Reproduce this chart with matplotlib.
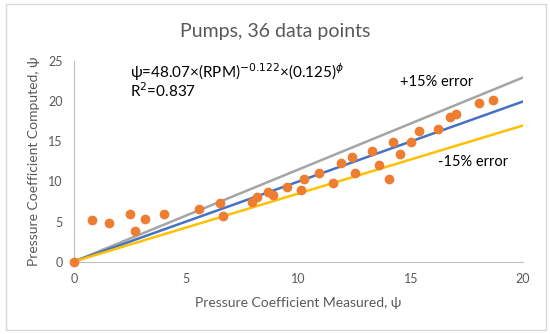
import matplotlib.pyplot as plt
from matplotlib.patches import Rectangle
import numpy as np

# measured vs computed pressure coefficient
measured = [0, 0.82, 1.54, 2.49, 2.72, 3.18, 3.99, 5.57, 6.50, 6.65, 7.94, 8.14,
            8.63, 8.88, 9.47, 10.1, 10.25, 10.93, 11.52, 11.88, 12.38, 12.52,
            13.27, 13.57, 14.05, 14.19, 14.52, 15.03, 15.35, 16.21, 16.73,
            17.03, 18.03, 18.68]
computed = [0, 5.15, 4.77, 5.98, 3.77, 5.31, 5.89, 6.52, 7.27, 5.69, 7.48, 8.02,
            8.69, 8.35, 9.27, 8.9, 10.27, 11.06, 9.85, 12.31, 13.1, 11.02,
            13.85, 12.1, 10.35, 14.94, 13.48, 14.94, 16.31, 16.52, 18.1,
            18.4, 19.77, 20.2]

line_x = [0, 20]
perfect = [0, 20]
plus15 = [0, 23]
minus15 = [0, 17]

xticks = [0, 5, 10, 15, 20]
yticks = [0, 5, 10, 15, 20, 25]

plt.rcParams['font.family'] = ['Lato', 'DejaVu Sans']
txt = '#595959'

fig = plt.figure(figsize=(5.5, 3.34), dpi=100)
fig.patches.append(Rectangle((0.010, 0.012), 0.983, 0.975, transform=fig.transFigure,
                             fill=False, edgecolor='#d9d9d9', linewidth=1))

ax = fig.add_axes([0.1345, 0.217, 0.8165, 0.599])
ax.plot(line_x, plus15, color='#A5A5A5', lw=1.8, zorder=2)
ax.plot(line_x, perfect, color='#4472C4', lw=1.8, zorder=2)
ax.plot(line_x, minus15, color='#FFC000', lw=1.8, zorder=2)
ax.scatter(measured, computed, s=36, color='#ED7D31', zorder=3, clip_on=False)

ax.set_xlim(0, 20)
ax.set_ylim(0, 25)
ax.set_xticks(xticks)
ax.set_yticks(yticks)
ax.tick_params(length=0, labelsize=9, colors=txt, pad=8)
for s in ['top', 'right']:
    ax.spines[s].set_visible(False)
for s in ['left', 'bottom']:
    ax.spines[s].set_color('#bfbfbf')

ax.set_xlabel('Pressure Coefficient Measured, ψ', fontsize=10, color=txt, labelpad=9)
ax.set_ylabel('Pressure Coefficient Computed, ψ', fontsize=10, color=txt, labelpad=6)
fig.text(0.5, 0.905, 'Pumps, 36 data points', ha='center', va='center',
         fontsize=14, color=txt)

ax.text(2.5, 23.7, 'ψ=48.07×(RPM)$^{-0.122}$×(0.125)$^{ϕ}$', fontsize=11,
        color='black', va='center')
ax.text(2.5, 21.3, 'R$^2$=0.837', fontsize=11, color='black', va='center')
ax.text(14.5, 22.4, '+15% error', fontsize=10.5, color='black', va='center')
ax.text(16.2, 12.45, '-15% error', fontsize=10.5, color='black', va='center')

fig.savefig('out.png', dpi=100)
